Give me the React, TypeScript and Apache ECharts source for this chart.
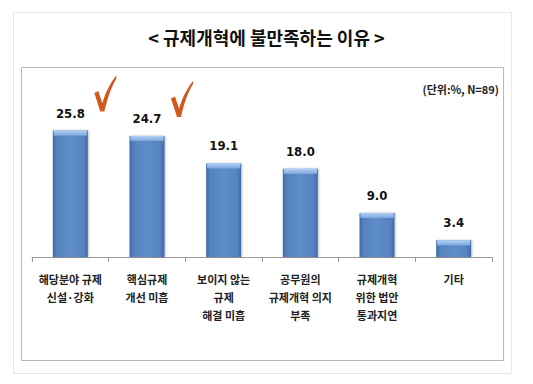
import React, { useEffect, useRef } from "react";
import * as echarts from "echarts";

const categories = [
  "해당분야 규제\n신설·강화",
  "핵심규제\n개선 미흡",
  "보이지 않는\n규제\n해결 미흡",
  "공무원의\n규제개혁 의지\n부족",
  "규제개혁\n위한 법안\n통과지연",
  "기타",
];
const values = [25.8, 24.7, 19.1, 18.0, 9.0, 3.4];
const checkedIndices = [0, 1];
const titleText = "< 규제개혁에 불만족하는 이유 >";
const unitText = "(단위:%, N=89)";

const CHECK_PATH =
  "path://M0,17 L4,15 L8,27 C11,17 16,7 22,0 L22,3 C17,11 13,22 10,35 L6,35 Z";

export default function App() {
  const ref = useRef<HTMLDivElement>(null);
  useEffect(() => {
    if (!ref.current) return;
    const chart = echarts.init(ref.current, null, { renderer: "svg" });
    const kfont = "'Noto Sans CJK KR', sans-serif";
    const nfont = "'Liberation Sans Narrow', 'DejaVu Sans Condensed', 'Liberation Sans', sans-serif";
    chart.setOption({
      animation: false,
      backgroundColor: "#ffffff",
      title: {
        text: titleText,
        left: "center",
        top: 23,
        textStyle: { fontFamily: kfont, fontWeight: "bold", fontSize: 18, color: "#111" },
      },
      graphic: [
        {
          type: "rect",
          shape: { x: 13.5, y: 12.5, width: 498, height: 361 },
          style: { fill: "none", stroke: "#e6e6e6", lineWidth: 1 },
          silent: true,
        },
        {
          type: "rect",
          shape: { x: 21.5, y: 67.5, width: 482, height: 293 },
          style: { fill: "none", stroke: "#b8b8b8", lineWidth: 1 },
          silent: true,
        },
        {
          type: "text",
          right: 34,
          top: 83,
          style: {
            text: unitText,
            fontFamily: kfont,
            fontWeight: "bold",
            fontSize: 11,
            fill: "#222",
          },
          silent: true,
        },
      ],
      grid: { left: 32, right: 41, top: 110, bottom: 127 },
      xAxis: {
        type: "category",
        data: categories,
        axisLine: { lineStyle: { color: "#9a9a9a", width: 1 } },
        axisTick: { show: true, length: 5, lineStyle: { color: "#9a9a9a" } },
        axisLabel: {
          interval: 0,
          margin: 13,
          fontFamily: kfont,
          fontWeight: "bold",
          fontSize: 11,
          lineHeight: 18,
          color: "#222",
        },
      },
      yAxis: {
        type: "value",
        min: 0,
        max: 30,
        show: false,
        splitLine: { show: false },
      },
      series: [
        {
          type: "bar",
          data: values,
          barWidth: 35,
          itemStyle: {
            color: new echarts.graphic.LinearGradient(0, 0, 1, 0, [
              { offset: 0, color: "#3d6aa6" },
              { offset: 0.12, color: "#5583c0" },
              { offset: 0.5, color: "#5f8dca" },
              { offset: 0.88, color: "#5583c0" },
              { offset: 1, color: "#3d6aa6" },
            ]),
            shadowColor: "rgba(0,0,0,0.25)",
            shadowBlur: 2,
            shadowOffsetX: 1,
            shadowOffsetY: 0,
          },
          label: {
            show: true,
            position: "top",
            distance: 11,
            formatter: (p: any) => Number(p.value).toFixed(1),
            fontFamily: nfont,
            fontWeight: "bold",
            fontSize: 13,
            color: "#111",
          },
          markPoint: {
            symbol: CHECK_PATH,
            symbolSize: [22, 36],
            symbolOffset: [35, -37],
            label: { show: false },
            itemStyle: { color: "#d2581f" },
            data: checkedIndices.map((i) => ({ coord: [i, values[i]] })),
          },
        },
        {
          type: "pictorialBar",
          data: values,
          symbol: "rect",
          symbolSize: [33, 5],
          symbolPosition: "end",
          symbolOffset: [0, 0],
          barGap: "-100%",
          z: 3,
          itemStyle: {
            color: new echarts.graphic.LinearGradient(0, 0, 0, 1, [
              { offset: 0, color: "#b4d2f5" },
              { offset: 1, color: "#7aa6dd" },
            ]),
          },
          label: { show: false },
          silent: true,
        },
      ],
    });
    return () => chart.dispose();
  }, []);
  return (
    <div
      ref={ref}
      style={{ position: "absolute", left: 0, top: 0, width: 533, height: 384 }}
    />
  );
}
